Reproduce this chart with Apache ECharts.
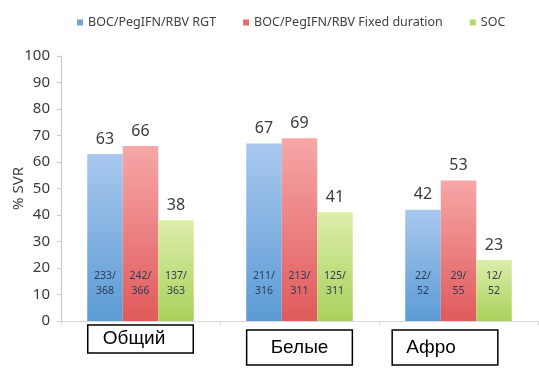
<!DOCTYPE html>
<html><head><meta charset="utf-8">
<script src="https://cdn.jsdelivr.net/npm/echarts@6/dist/echarts.min.js"></script>
<style>html,body{margin:0;padding:0;background:#fff}#c{width:539px;height:371px}</style>
</head><body><div id="c"></div>
<script>
var categories = ['Общий', 'Белые', 'Афро'];
var seriesNames = ['BOC/PegIFN/RBV RGT', 'BOC/PegIFN/RBV Fixed duration', 'SOC'];
var rgtValues = [63, 67, 42];
var fixedValues = [66, 69, 53];
var socValues = [38, 41, 23];
var rgtFractions = ['233/\n368', '211/\n316', '22/\n52'];
var fixedFractions = ['242/\n366', '213/\n311', '29/\n55'];
var socFractions = ['137/\n363', '125/\n311', '12/\n52'];
var yTicks = { min: 0, max: 100, interval: 10 };

var FONT = 'Noto Sans';
function grad(top, bottom) {
  return new echarts.graphic.LinearGradient(0, 0, 0, 1, [
    { offset: 0, color: top }, { offset: 1, color: bottom }
  ]);
}
var styles = [
  { c: grad('#a9c8ee', '#5b9bd5'), legend: '#6fa3dc' },
  { c: grad('#f7a7a7', '#e05a5b'), legend: '#e46c6c' },
  { c: grad('#ddedab', '#a9d15a'), legend: '#b5d86c' }
];
var allValues = [rgtValues, fixedValues, socValues];
var allFractions = [rgtFractions, fixedFractions, socFractions];

var series = allValues.map(function (vals, si) {
  return {
    name: seriesNames[si],
    type: 'bar',
    barGap: '0%',
    barCategoryGap: '33%',
    data: vals,
    itemStyle: { color: styles[si].c },
    label: {
      show: true, position: 'top', distance: 7,
      color: '#3a3a3a', fontSize: 16, fontFamily: FONT
    },
    markPoint: {
      symbol: 'circle', symbolSize: 1,
      itemStyle: { color: 'rgba(0,0,0,0)' },
      label: {
        show: true, position: 'inside', color: '#2b3a5a',
        fontSize: 10.5, lineHeight: 15, fontFamily: FONT,
        formatter: function (p) { return p.name; }
      },
      data: allFractions[si].map(function (f, i) {
        return { name: f, coord: [i, 14] };
      })
    }
  };
});

var chart = echarts.init(document.getElementById('c'), null, { renderer: 'canvas' });
chart.setOption({
  animation: false,
  backgroundColor: '#ffffff',
  legend: {
    top: 11, left: 72,
    itemWidth: 6, itemHeight: 6, itemGap: 27,
    icon: 'rect',
    textStyle: { fontFamily: FONT, fontSize: 12.5, color: '#404040' },
    data: seriesNames.map(function (n, i) {
      return { name: n, itemStyle: { color: styles[i].legend } };
    })
  },
  grid: { left: 61, right: 1, top: 56, bottom: 50, outerBoundsMode: 'none', containLabel: false },
  xAxis: {
    type: 'category',
    data: categories,
    axisLine: { lineStyle: { color: '#d9d9d9', width: 1 } },
    axisTick: { show: true, length: 4, lineStyle: { color: '#d9d9d9' } },
    axisLabel: {
      margin: 2, interval: 0,
      formatter: function (v, i) {
        return '{b' + i + '|' + v + '}{s' + i + '|}';
      },
      rich: {
        b0: { fontFamily: 'Liberation Sans', fontSize: 19, color: '#000',
              borderColor: '#000', borderWidth: 1.5, height: 28,
              padding: [0, 28, 0, 15], verticalAlign: 'bottom' },
        s0: { width: 0, height: 30 },
        b1: { fontFamily: 'Liberation Sans', fontSize: 19, color: '#000',
              borderColor: '#000', borderWidth: 1.5, height: 35,
              padding: [0, 24, 0, 24], verticalAlign: 'bottom' },
        s1: { width: 0, height: 42 },
        b2: { fontFamily: 'Liberation Sans', fontSize: 19, color: '#000',
              borderColor: '#000', borderWidth: 1.5, height: 35,
              padding: [0, 42, 0, 14], verticalAlign: 'bottom' },
        s2: { width: 27, height: 42 }
      }
    }
  },
  yAxis: {
    type: 'value',
    min: yTicks.min, max: yTicks.max, interval: yTicks.interval,
    name: '% SVR', nameLocation: 'middle', nameGap: 35, nameRotate: 90,
    nameMoveOverlap: false,
    nameTextStyle: { fontFamily: FONT, fontSize: 15, color: '#404040' },
    axisLine: { show: true, lineStyle: { color: '#c8c8c8' } },
    axisTick: { show: true, length: 4, lineStyle: { color: '#c8c8c8' } },
    splitLine: { show: false },
    axisLabel: { fontFamily: FONT, fontSize: 15, color: '#3a3a3a', margin: 11 }
  },
  series: series
});
</script></body></html>
